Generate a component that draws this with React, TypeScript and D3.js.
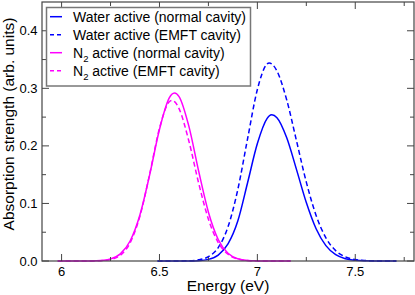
import React from "react";
import * as d3 from "d3";

const energyN2 = [5.98, 6.0, 6.05, 6.1, 6.15, 6.2, 6.25, 6.3, 6.35, 6.4, 6.45, 6.5, 6.55, 6.563, 6.577, 6.6, 6.65, 6.7, 6.75, 6.8, 6.85, 6.9, 6.95, 7.0, 7.05, 7.1, 7.15, 7.17];
const n2Normal = [0, 0, 0, 0.00002, 0.00016, 0.0008, 0.0035, 0.0123, 0.0347, 0.08, 0.1499, 0.2285, 0.2833, 0.2896, 0.292, 0.2857, 0.2343, 0.1563, 0.0848, 0.0374, 0.0134, 0.0039, 0.0009, 0.0002, 0, 0, 0, 0];
const n2Emft = [0, 0, 0, 0.00001, 0.00008, 0.0005, 0.0025, 0.01, 0.0315, 0.0778, 0.151, 0.2306, 0.2767, 0.279, 0.277, 0.2647, 0.2085, 0.1355, 0.0727, 0.0321, 0.0117, 0.0035, 0.0009, 0.0002, 0, 0, 0, 0];

const energyWater = [6.49, 6.55, 6.6, 6.65, 6.7, 6.75, 6.8, 6.85, 6.9, 6.95, 7.0, 7.05, 7.06, 7.074, 7.1, 7.15, 7.2, 7.25, 7.3, 7.35, 7.4, 7.45, 7.5, 7.55, 7.6, 7.65, 7.71];
const waterNormal = [0, 0, 0.00002, 0.0001, 0.0006, 0.0028, 0.0102, 0.0296, 0.0694, 0.136, 0.204, 0.2478, 0.2519, 0.254, 0.249, 0.2141, 0.1588, 0.1016, 0.056, 0.0267, 0.0109, 0.0039, 0.0012, 0.0003, 0.0001, 0, 0];
const waterEmft = [0, 0.00001, 0.0001, 0.0004, 0.002, 0.0075, 0.0232, 0.0593, 0.124, 0.2124, 0.298, 0.3425, 0.344, 0.3423, 0.3302, 0.2798, 0.2086, 0.137, 0.0792, 0.0403, 0.018, 0.0071, 0.0025, 0.0008, 0.0002, 0, 0];

const xTicks = [6, 6.25, 6.5, 6.75, 7, 7.25, 7.5, 7.75];
const xTickLabels = ["6", "", "6.5", "", "7", "", "7.5", ""];
const yTicks = [0, 0.05, 0.1, 0.15, 0.2, 0.25, 0.3, 0.35, 0.4];
const yTickLabels = ["0.0", "", "0.1", "", "0.2", "", "0.3", "", "0.4"];

const BLUE = "#0000ff";
const MAGENTA = "#ff00ff";

const series = [
  { x: energyWater, y: waterNormal, color: BLUE, dash: null, name: "Water active (normal cavity)", sub: false },
  { x: energyWater, y: waterEmft, color: BLUE, dash: "5,3", name: "Water active (EMFT cavity)", sub: false },
  { x: energyN2, y: n2Normal, color: MAGENTA, dash: null, name: "(normal cavity)", sub: true },
  { x: energyN2, y: n2Emft, color: MAGENTA, dash: "5,3", name: "(EMFT cavity)", sub: true },
];

export default function App() {
  const W = 415, H = 295;
  const L = 42, R = 414, T = 2, B = 261;
  const x = d3.scaleLinear().domain([5.9, 7.8]).range([L, R]);
  const y = d3.scaleLinear().domain([0, 0.45]).range([B, T]);
  const font = "'Liberation Sans', Arial, sans-serif";
  const axisColor = "#444";

  const paths = series.map((s) => {
    const pts: [number, number][] = s.x.map((e, i) => [e, s.y[i]]);
    const gen = d3.line<[number, number]>().x((d) => x(d[0])).y((d) => y(d[1])).curve(d3.curveMonotoneX);
    return gen(pts) || "";
  });

  const isMajorX = (i: number) => xTickLabels[i] !== "";
  const isMajorY = (i: number) => yTickLabels[i] !== "";

  return (
    <svg width={W} height={H} style={{ position: "absolute", left: 0, top: 0, background: "#fff" }} fontFamily={font}>
      <rect x={0} y={0} width={W} height={H} fill="#fff" />
      {paths.map((p, i) => (
        <path key={i} d={p} fill="none" stroke={series[i].color} strokeWidth={1.5} strokeDasharray={series[i].dash || undefined} />
      ))}
      {xTicks.map((t, i) => {
        const len = isMajorX(i) ? 7 : 4;
        return (
          <g key={"xt" + i} stroke={axisColor} strokeWidth={1}>
            <line x1={x(t)} x2={x(t)} y1={B} y2={B - len} />
            <line x1={x(t)} x2={x(t)} y1={T} y2={T + len} />
          </g>
        );
      })}
      {yTicks.map((t, i) => {
        const len = isMajorY(i) ? 7 : 4;
        return (
          <g key={"yt" + i} stroke={axisColor} strokeWidth={1}>
            <line x1={L} x2={L + len} y1={y(t)} y2={y(t)} />
            <line x1={R} x2={R - len} y1={y(t)} y2={y(t)} />
          </g>
        );
      })}
      <rect x={L} y={T} width={R - L} height={B - T} fill="none" stroke={axisColor} strokeWidth={1.2} />
      {xTicks.map((t, i) =>
        xTickLabels[i] ? (
          <text key={"xl" + i} x={x(t)} y={276} fontSize={13} textAnchor="middle" fill="#000">
            {xTickLabels[i]}
          </text>
        ) : null
      )}
      {yTicks.map((t, i) =>
        yTickLabels[i] ? (
          <text key={"yl" + i} x={37.5} y={y(t) + 4.6} fontSize={13} textAnchor="end" fill="#000">
            {yTickLabels[i]}
          </text>
        ) : null
      )}
      <text x={(L + R) / 2} y={290.5} fontSize={15.5} textAnchor="middle" fill="#000">
        Energy (eV)
      </text>
      <text transform="translate(13.5,124) rotate(-90)" fontSize={15.5} textAnchor="middle" fill="#000">
        Absorption strength (arb. units)
      </text>
      <rect x={46.5} y={7.5} width={204} height={78.5} fill="#fff" stroke="#777" strokeWidth={1.5} />
      {series.map((s, i) => {
        const cy = 16.7 + i * 18;
        return (
          <g key={"lg" + i}>
            <line x1={50} x2={62} y1={cy} y2={cy} stroke={s.color} strokeWidth={1.5} strokeDasharray={s.dash ? "4,3" : undefined} />
            <text x={73} y={cy + 5} fontSize={14} fill="#000">
              {s.sub ? (
                <>
                  N<tspan fontSize={9.5} dy={4}>2</tspan>
                  <tspan dy={-4}> active {s.name}</tspan>
                </>
              ) : (
                s.name
              )}
            </text>
          </g>
        );
      })}
    </svg>
  );
}
